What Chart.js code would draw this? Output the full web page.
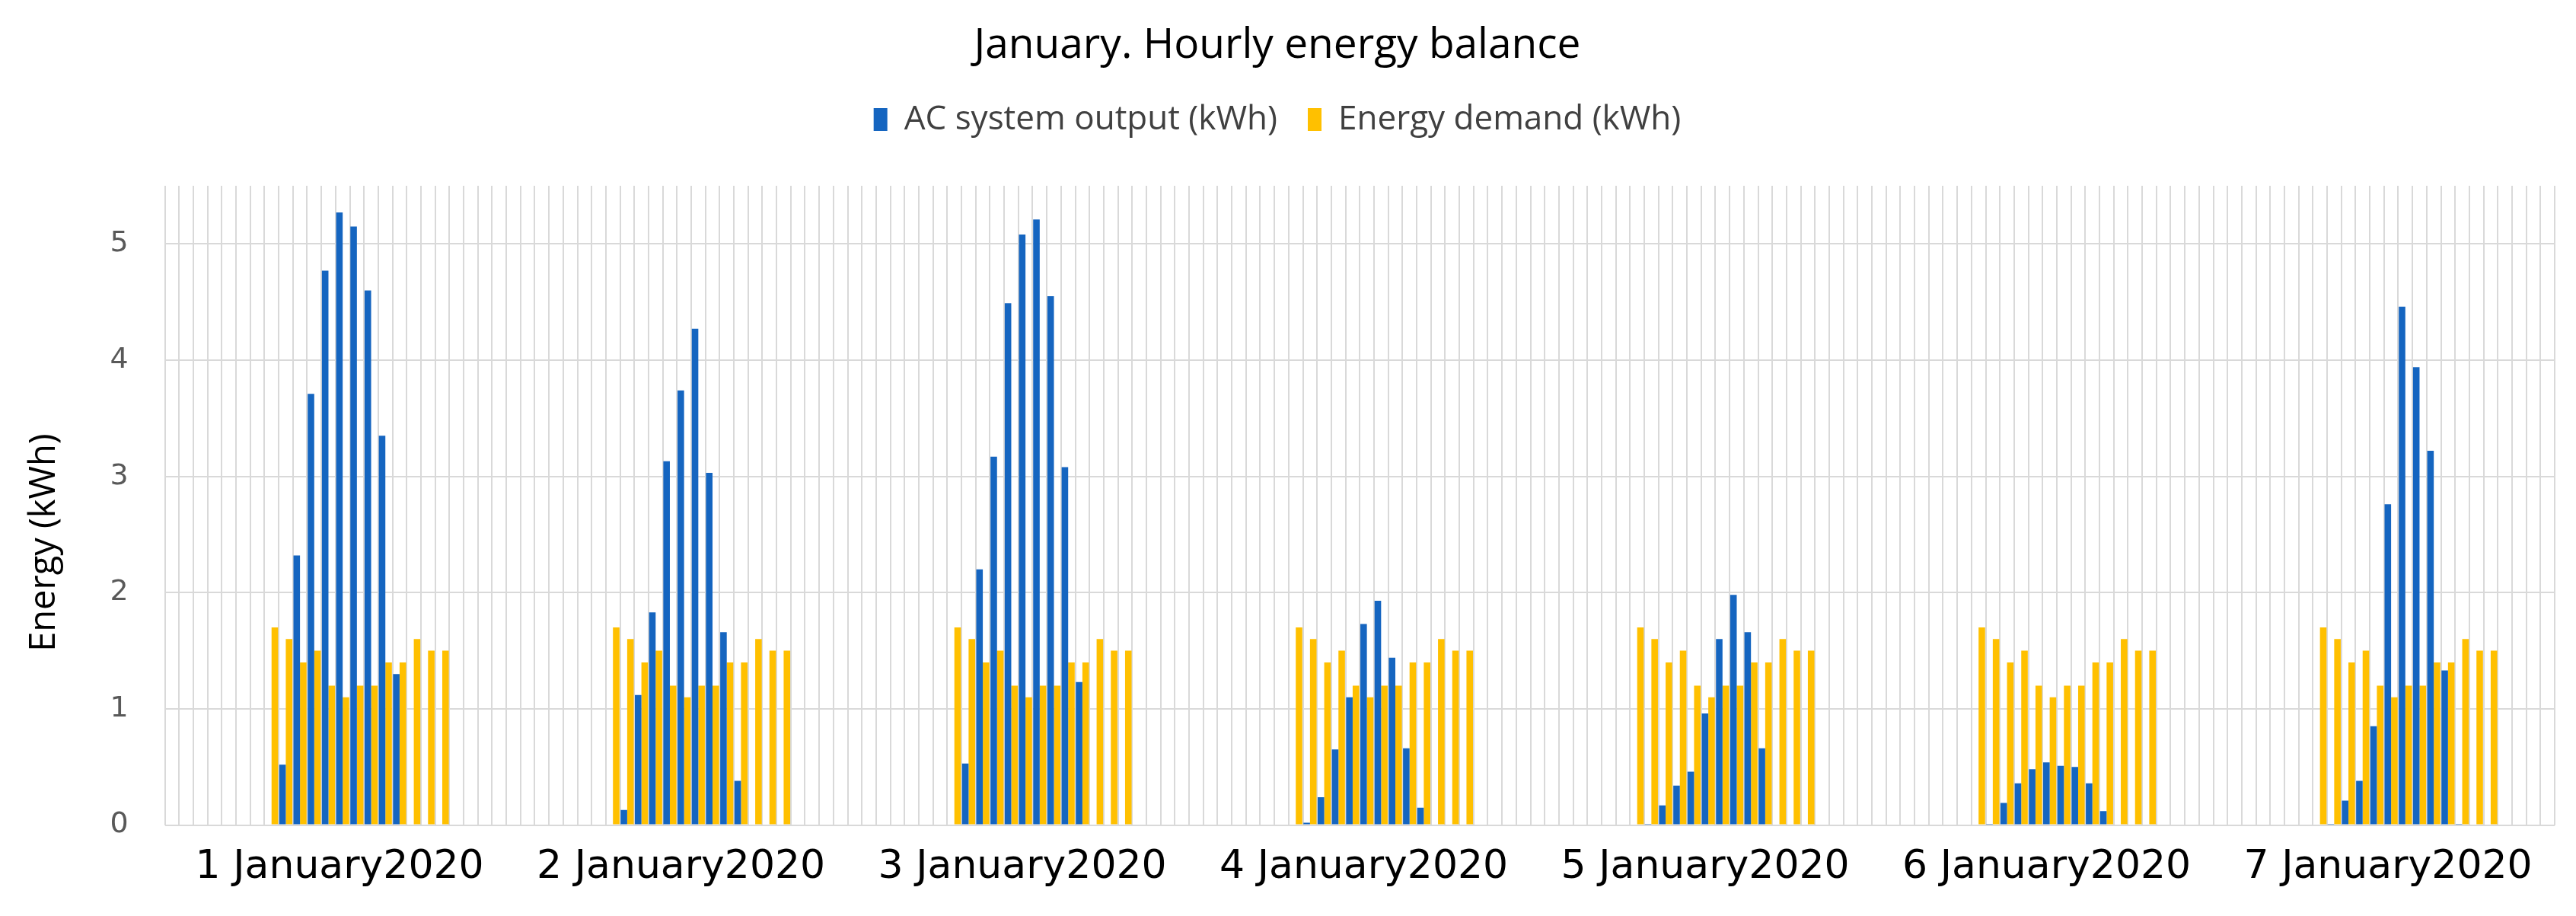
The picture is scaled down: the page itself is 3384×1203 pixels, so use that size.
<!DOCTYPE html>
<html>
<head>
<meta charset="utf-8">
<script src="https://cdn.jsdelivr.net/npm/chart.js@4.4.1/dist/chart.umd.min.js"></script>
<style>
  html, body { margin: 0; padding: 0; background: #fff; }
  #wrap { width: 3384px; height: 1203px; }
</style>
</head>
<body>
<div id="wrap"><canvas id="energy-chart"></canvas></div>
<script>
// one label per day, shown under the middle of each day
const dayLabels = ['1 January2020', '2 January2020', '3 January2020', '4 January2020',
                   '5 January2020', '6 January2020', '7 January2020'];

// hourly values 0..23 for each day (kWh)
const outputDay1 = [0, 0, 0, 0, 0, 0, 0, 0, 0.52, 2.32, 3.71, 4.77, 5.27, 5.15, 4.6, 3.35, 1.3, 0, 0, 0, 0, 0, 0, 0];
const outputDay2 = [0, 0, 0, 0, 0, 0, 0, 0, 0.13, 1.12, 1.83, 3.13, 3.74, 4.27, 3.03, 1.66, 0.38, 0, 0, 0, 0, 0, 0, 0];
const outputDay3 = [0, 0, 0, 0, 0, 0, 0, 0, 0.53, 2.2, 3.17, 4.49, 5.08, 5.21, 4.55, 3.08, 1.23, 0, 0, 0, 0, 0, 0, 0];
const outputDay4 = [0, 0, 0, 0, 0, 0, 0, 0, 0.02, 0.24, 0.65, 1.1, 1.73, 1.93, 1.44, 0.66, 0.15, 0, 0, 0, 0, 0, 0, 0];
const outputDay5 = [0, 0, 0, 0, 0, 0, 0, 0, 0.01, 0.17, 0.34, 0.46, 0.96, 1.6, 1.98, 1.66, 0.66, 0, 0, 0, 0, 0, 0, 0];
const outputDay6 = [0, 0, 0, 0, 0, 0, 0, 0, 0.01, 0.19, 0.36, 0.48, 0.54, 0.51, 0.5, 0.36, 0.12, 0, 0, 0, 0, 0, 0, 0];
const outputDay7 = [0, 0, 0, 0, 0, 0, 0, 0, 0.01, 0.21, 0.38, 0.85, 2.76, 4.46, 3.94, 3.22, 1.33, 0.01, 0, 0, 0, 0, 0, 0];

// demand profile is the same every day
const demandDay = [0, 0, 0, 0, 0, 0, 0, 1.7, 1.6, 1.4, 1.5, 1.2, 1.1, 1.2, 1.2, 1.4, 1.4, 1.6, 1.5, 1.5, 0, 0, 0, 0];

const outputDays = [outputDay1, outputDay2, outputDay3, outputDay4, outputDay5, outputDay6, outputDay7];
const acOutput = outputDays.flat();
const demand = dayLabels.map(() => demandDay).flat();
const labels = [];
dayLabels.forEach(d => { for (let h = 0; h < 24; h++) labels.push(d + ' ' + h + ':00'); });

// push the plot down below the legend
const legendGap = {
    id: 'legendGap',
    beforeInit(chart) {
        const fit = chart.legend.fit;
        chart.legend.fit = function () {
            fit.bind(chart.legend)();
            this.height += 55;
        };
    }
};

const ctx = document.getElementById('energy-chart').getContext('2d');
const energyChart = new Chart(ctx, {
    type: 'bar',
    data: {
        labels: labels,
        datasets: [{
            label: 'AC system output (kWh)',
            data: acOutput,
            backgroundColor: '#1565c0',
            barPercentage: 1,
            categoryPercentage: 0.92
        }, {
            label: 'Energy demand (kWh)',
            data: demand,
            backgroundColor: '#ffc000',
            barPercentage: 1,
            categoryPercentage: 0.92
        }]
    },
    options: {
        responsive: true,
        maintainAspectRatio: false,
        animation: false,
        layout: { padding: { left: 0, right: 28, top: 0, bottom: 7 } },
        plugins: {
            title: {
                display: true,
                text: 'January. Hourly energy balance',
                color: '#000',
                font: { family: 'Open Sans', size: 55, weight: 'normal' },
                padding: { top: 27, bottom: 2 }
            },
            legend: {
                labels: {
                    color: '#404040',
                    font: { family: 'Open Sans', size: 44 },
                    boxWidth: 18,
                    boxHeight: 30,
                    padding: 40
                }
            },
            tooltip: { enabled: false }
        },
        scales: {
            x: {
                grid: { color: '#d9d9d9', lineWidth: 2, drawTicks: false, offset: true },
                border: { display: false },
                ticks: {
                    autoSkip: false,
                    maxRotation: 0,
                    minRotation: 0,
                    padding: 25,
                    labelOffset: -4,
                    color: '#000',
                    font: { family: 'DejaVu Sans', size: 52 },
                    callback: (v, i) => i % 24 === 12 ? dayLabels[Math.floor(i / 24)] : ''
                }
            },
            y: {
                min: 0,
                max: 5.5,
                grid: { color: '#d9d9d9', lineWidth: 2, drawTicks: false },
                border: { display: false },
                ticks: {
                    stepSize: 1,
                    includeBounds: false,
                    padding: 48,
                    color: '#595959',
                    font: { family: 'DejaVu Sans', size: 38 }
                },
                title: {
                    display: true,
                    // trailing spaces nudge the rotated title a little lower, as in the original
                    text: 'Energy (kWh)        ',
                    color: '#000',
                    font: { family: 'Open Sans', size: 47 },
                    padding: { top: 30, bottom: 10 }
                }
            }
        }
    },
    plugins: [legendGap]
});
</script>
</body>
</html>
